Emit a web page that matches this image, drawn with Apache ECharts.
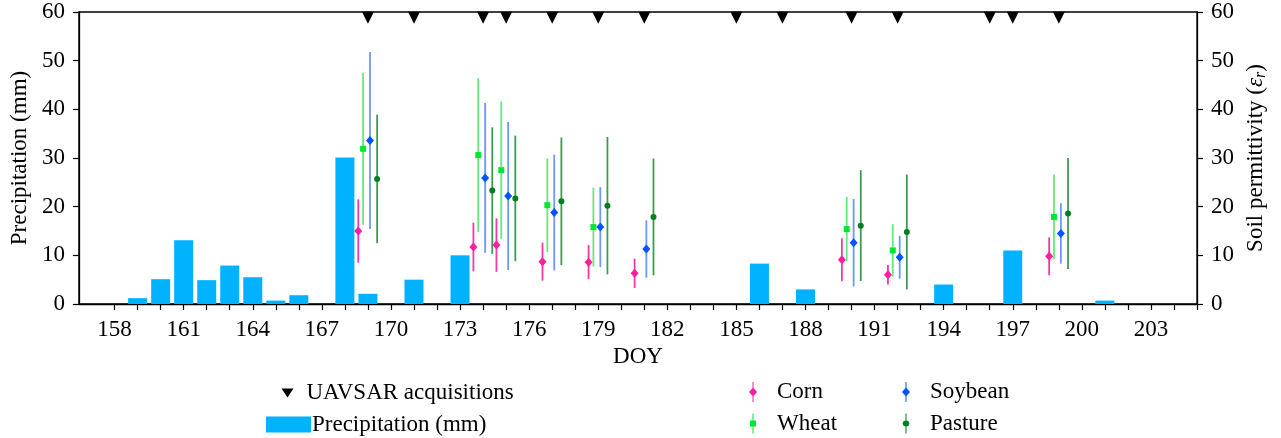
<!DOCTYPE html>
<html>
<head>
<meta charset="utf-8">
<script src="https://cdn.jsdelivr.net/npm/echarts@6/dist/echarts.min.js"></script>
<style>html,body{margin:0;padding:0;background:#fff}#c{width:1281px;height:438px}</style>
</head>
<body>
<div id="c"></div>
<script>
// ---- data ----
const precipDays = [159,160,161,162,163,164,165,166,168,169,171,173,186,188,194,197,201];
const precipMm   = [1.2,5.1,13.1,4.9,7.9,5.5,0.7,1.8,30.1,2.1,5.0,10.0,8.3,3.0,4.0,11.0,0.7];
const uavsarDays = [169,171,174,175,177,179,181,185,187,190,192,196,197,199];

const cornDays = [169,174,175,177,179,181,190,192,199];
const cornMean = [15.0,11.7,12.1,8.7,8.6,6.3,9.1,6.0,9.8];
const cornErr  = [6.5,5.0,5.5,3.9,3.5,3.0,4.4,2.0,3.9];

const wheatDays = [169,174,175,177,179,190,192,199];
const wheatMean = [31.9,30.6,27.5,20.3,15.8,15.4,11.0,17.9];
const wheatErr  = [15.6,15.8,14.1,9.6,8.1,6.6,5.4,8.7];

const soyDays = [169,174,175,177,179,181,190,192,199];
const soyMean = [33.6,25.9,22.2,18.8,15.8,11.3,12.6,9.6,14.5];
const soyErr  = [18.2,15.4,15.2,11.9,8.2,5.9,9.0,4.4,6.2];

const pastDays = [169,174,175,177,179,181,190,192,199];
const pastMean = [25.7,23.3,21.7,21.1,20.2,17.9,16.1,14.8,18.6];
const pastErr  = [13.2,13.0,12.9,13.1,14.1,12.0,11.4,11.8,11.4];

const xTickValues  = [];
for (let d = 158; d <= 205; d++) xTickValues.push(d);
const xLabelValues = [158,161,164,167,170,173,176,179,182,185,188,191,194,197,200,203];

// ---- layout / style constants ----
const FONT = 'Liberation Serif';
const FS = 23;
const MARK_Y = 58.8;           // vertical position of acquisition markers (axis units)
const crops = [
  {name:'Corn',    days:cornDays,  mean:cornMean,  err:cornErr,  dx:-0.42, color:'#ff1f9c', line:'rgba(255,31,156,0.9)', symbol:'diamond', size:[8,9]},
  {name:'Wheat',   days:wheatDays, mean:wheatMean, err:wheatErr, dx:-0.21, color:'#00e632', line:'rgba(50,225,80,0.75)',  symbol:'rect',    size:[6,6]},
  {name:'Soybean', days:soyDays,   mean:soyMean,   err:soyErr,   dx: 0.09, color:'#0055ff', line:'rgba(40,110,255,0.7)',  symbol:'diamond', size:[8,9]},
  {name:'Pasture', days:pastDays,  mean:pastMean,  err:pastErr,  dx: 0.40, color:'#007f1e', line:'rgba(10,130,40,0.8)',    symbol:'circle',  size:6}
];
const icons = {
  Corn:    'path://M3.5,0 L4.5,0 L4.5,6 L8,10 L4.5,14 L4.5,20 L3.5,20 L3.5,14 L0,10 L3.5,6 Z',
  Soybean: 'path://M3.5,0 L4.5,0 L4.5,6 L8,10 L4.5,14 L4.5,20 L3.5,20 L3.5,14 L0,10 L3.5,6 Z',
  Wheat:   'path://M3.5,0 L4.5,0 L4.5,7 L7,7 L7,13 L4.5,13 L4.5,20 L3.5,20 L3.5,13 L1,13 L1,7 L3.5,7 Z',
  Pasture: 'path://M3.5,0 L4.5,0 L4.5,7 L6.5,7.8 L7.5,10 L6.5,12.2 L4.5,13 L4.5,20 L3.5,20 L3.5,13 L1.5,12.2 L0.5,10 L1.5,7.8 L3.5,7 Z'
};

const series = [];
series.push({
  name:'Precipitation (mm)', type:'bar', yAxisIndex:0, barWidth:19,
  itemStyle:{color:'#00b2ff'},
  data: precipDays.map((d,i)=>[d, precipMm[i]]), z:1
});
crops.forEach(c=>{
  series.push({
    name:c.name, type:'custom', yAxisIndex:1, z:3,
    data: c.days.map((d,i)=>[d + c.dx, c.mean[i]-c.err[i], c.mean[i]+c.err[i]]),
    renderItem:(params, api)=>{
      const p1 = api.coord([api.value(0), api.value(1)]);
      const p2 = api.coord([api.value(0), api.value(2)]);
      return {type:'line', shape:{x1:p1[0], y1:p1[1], x2:p2[0], y2:p2[1]},
              style:{stroke:c.line, lineWidth:1.8}};
    },
    itemStyle:{color:c.color}
  });
  series.push({
    name:c.name, type:'scatter', yAxisIndex:1, z:4,
    symbol:c.symbol, symbolSize:c.size,
    itemStyle:{color:c.color, opacity:1},
    data: c.days.map((d,i)=>[d + c.dx, c.mean[i]])
  });
});
series.push({
  name:'UAVSAR acquisitions', type:'scatter', yAxisIndex:0, z:10,
  symbol:'path://M0,0 L12,0 L6,12 Z', symbolSize:[12,12],
  itemStyle:{color:'#000', opacity:1},
  data: uavsarDays.map(d=>[d, MARK_Y])
});

const txt = {fontFamily:FONT, fontSize:FS, color:'#000'};

const option = {
  animation:false,
  textStyle:{fontFamily:FONT},
  grid:{left:78, right:84, top:12, bottom:134, show:true, borderColor:'#000', borderWidth:1.3, backgroundColor:'transparent'},
  xAxis:{
    type:'value', min:156.45, max:205.0,
    name:'DOY', nameLocation:'middle', nameGap:38, nameTextStyle:txt,
    axisLine:{show:true, lineStyle:{color:'#000', width:1.3}},
    axisTick:{show:true, length:6, customValues:xTickValues, lineStyle:{color:'#000', width:1.2}},
    axisLabel:{customValues:xLabelValues, margin:14, ...txt},
    splitLine:{show:false}
  },
  yAxis:[
    {type:'value', min:0, max:60, interval:10, position:'left',
     name:'Precipitation (mm)', nameLocation:'middle', nameGap:46, nameTextStyle:txt,
     axisLine:{show:true, lineStyle:{color:'#000', width:1.3}},
     axisTick:{show:true, length:6, lineStyle:{color:'#000', width:1.2}},
     axisLabel:{margin:14, ...txt}, splitLine:{show:false}},
    {type:'value', min:0, max:60, interval:10, position:'right',
     name:'Soil permittivity ({e|ε}{s|r})', nameLocation:'middle', nameGap:44,
     nameTextStyle:{...txt, rich:{e:{fontFamily:FONT, fontSize:FS, fontStyle:'italic', color:'#000'},
                                  s:{fontFamily:FONT, fontSize:16, fontStyle:'italic', color:'#000', padding:[9,0,0,0]}}},
     axisLine:{show:true, lineStyle:{color:'#000', width:1.3}},
     axisTick:{show:true, length:6, lineStyle:{color:'#000', width:1.2}},
     axisLabel:{margin:14, ...txt}, splitLine:{show:false}}
  ],
  legend:[
    {data:[{name:'UAVSAR acquisitions', icon:'path://M0,0 L12,0 L6,9 Z'}],
     left:281.5, top:381, padding:0, itemWidth:12, itemHeight:9, selectedMode:false,
     textStyle:{...txt, lineHeight:24, padding:[0,0,0,8]}},
    {data:[{name:'Precipitation (mm)', icon:'rect'}],
     left:266, top:412.5, padding:0, itemWidth:45, itemHeight:16, selectedMode:false,
     textStyle:{...txt, lineHeight:24, padding:[0,0,0,-4]}},
    {data:[{name:'Corn', icon:icons.Corn},{name:'Wheat', icon:icons.Wheat}],
     orient:'vertical', left:749, top:380, padding:0, height:70, itemWidth:8, itemHeight:20, itemGap:7.5, selectedMode:false,
     textStyle:{...txt, lineHeight:24, padding:[0,0,0,15]}},
    {data:[{name:'Soybean', icon:icons.Soybean},{name:'Pasture', icon:icons.Pasture}],
     orient:'vertical', left:902, top:380, padding:0, height:70, itemWidth:8, itemHeight:20, itemGap:7.5, selectedMode:false,
     textStyle:{...txt, lineHeight:24, padding:[0,0,0,15]}}
  ],
  series: series
};
const chart = echarts.init(document.getElementById('c'), null, {renderer:'canvas'});
chart.setOption(option);
</script>
</body>
</html>
